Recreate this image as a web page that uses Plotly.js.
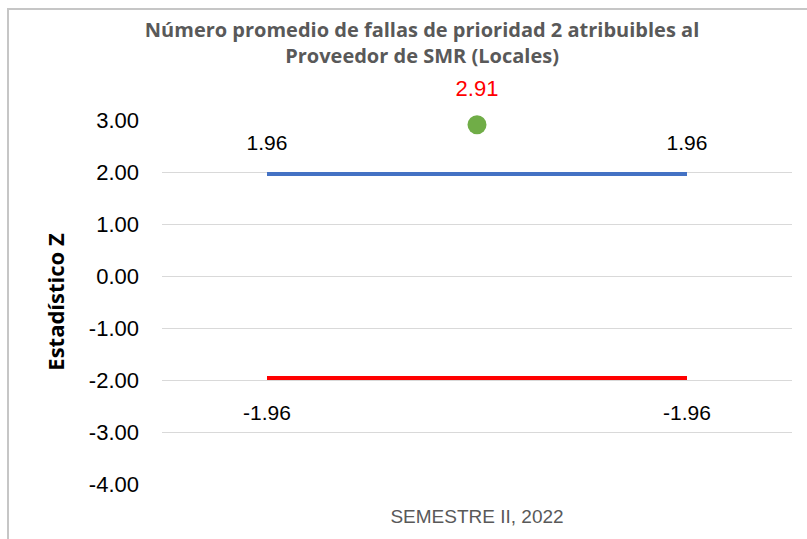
<!DOCTYPE html>
<html>
<head>
<meta charset="utf-8">
<script src="https://cdn.plot.ly/plotly-3.0.1.min.js"></script>
<style>
  html, body { margin: 0; padding: 0; background: #ffffff; }
  #chart { width: 807px; height: 539px; position: absolute; left: 0; top: 0; }
  #frame { position: absolute; left: 7px; top: 8px; width: 900px; height: 700px;
           border-left: 2px solid #c6c6c6; border-top: 2px solid #c6c6c6; pointer-events: none; }
</style>
</head>
<body>
<div id="chart"></div>
<div id="frame"></div>
<script>
// ---- data ----
const categories = ["", "SEMESTRE II, 2022", ""];
const categoryPos = [0, 1, 2];
const limitX = [0, 2];
const upperLimit = [1.96, 1.96];
const lowerLimit = [-1.96, -1.96];
const zX = [1];
const zValue = [2.91];
const yTicks = [3, 2, 1, 0, -1, -2, -3, -4];

const numFont = "Liberation Sans, Arial, sans-serif";
const fmt = v => v.toFixed(2);

const traces = [
  {
    x: limitX, y: upperLimit, type: 'scatter', mode: 'lines+markers+text',
    line: { color: '#4472C4', width: 4 },
    marker: { size: 29, opacity: 0 },
    text: upperLimit.map(fmt), textposition: 'top center',
    textfont: { family: numFont, size: 21, color: '#000000' },
    cliponaxis: false, hoverinfo: 'none', showlegend: false
  },
  {
    x: limitX, y: lowerLimit, type: 'scatter', mode: 'lines+markers+text',
    line: { color: '#FF0000', width: 4 },
    marker: { size: 40, opacity: 0 },
    text: lowerLimit.map(fmt), textposition: 'bottom center',
    textfont: { family: numFont, size: 21, color: '#000000' },
    cliponaxis: false, hoverinfo: 'none', showlegend: false
  },
  {
    x: zX, y: zValue, type: 'scatter', mode: 'markers',
    marker: { size: 19, color: '#70AD47' },
    cliponaxis: false, hoverinfo: 'none', showlegend: false
  },
  {
    x: zX, y: zValue, type: 'scatter', mode: 'markers+text',
    marker: { size: 35, opacity: 0 },
    text: zValue.map(fmt), textposition: 'top center',
    textfont: { family: numFont, size: 22, color: '#FF0000' },
    cliponaxis: false, hoverinfo: 'none', showlegend: false
  }
];

const layout = {
  width: 807, height: 539,
  margin: { l: 162, r: 15, t: 120, b: 55 },
  paper_bgcolor: '#ffffff', plot_bgcolor: '#ffffff',
  title: {
    text: 'Número promedio de fallas de prioridad 2 atribuibles al<br>Proveedor de SMR (Locales)',
    font: { family: 'Open Sans, sans-serif', size: 20, color: '#595959', weight: 'bold' },
    x: 0.523, xref: 'container', xanchor: 'center',
    y: 0.931, yref: 'container', yanchor: 'middle'
  },
  xaxis: {
    range: [-0.5, 2.5], tickvals: categoryPos, ticktext: categories,
    showgrid: false, zeroline: false, showline: false, ticks: '',
    tickfont: { family: numFont, size: 19, color: '#595959' },
    ticklabelstandoff: 19, fixedrange: true
  },
  yaxis: {
    range: [-4, 3], tickvals: yTicks, ticktext: yTicks.map(fmt),
    showgrid: true, gridcolor: '#d9d9d9', gridwidth: 1,
    zeroline: false, showline: false, ticks: '',
    tickfont: { family: numFont, size: 22, color: '#000000' },
    ticklabelstandoff: 22,
    title: { text: 'Estadístico Z', standoff: 18,
             font: { family: 'Open Sans, sans-serif', size: 22, color: '#000000', weight: 'bold' } },
    fixedrange: true
  },
  showlegend: false
};

Plotly.newPlot('chart', traces, layout, { staticPlot: true, displayModeBar: false });
</script>
</body>
</html>
